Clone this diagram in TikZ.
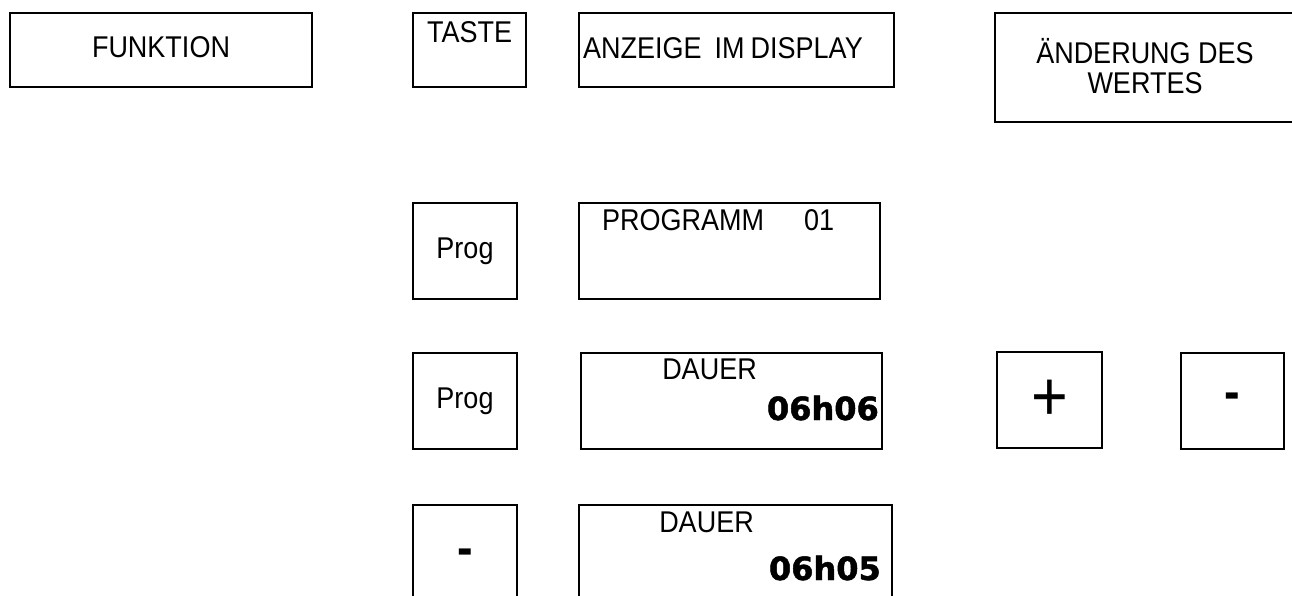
\documentclass[tikz,border=0pt]{standalone}
\usepackage{fontspec}
\setmainfont{Liberation Sans}[FakeStretch=0.9]
\newfontfamily\lcdfont{DejaVu Sans}[BoldFeatures={FakeBold=1.5}]
\usetikzlibrary{positioning}
\tikzset{
  box/.style={draw,line width=2pt,inner sep=0pt,minimum height=74.6pt},
  keybox/.style={box,minimum width=104pt,minimum height=96pt},
  lcdbox/.style={box,minimum width=301pt,minimum height=96pt},
  txt/.style={inner sep=0pt,anchor=base},
  lcd/.style={inner sep=0pt,anchor=base east,font=\lcdfont\bfseries\fontsize{32}{32}\selectfont},
  sign/.style={font=\bfseries\fontsize{52}{52}\selectfont},
}
\begin{document}
\begin{tikzpicture}[x=1pt,y=-1pt,font=\fontsize{30}{30}\selectfont]
\clip (0,0) rectangle (1292,596);
% header row
\node[box,minimum width=302pt,text depth=5pt] (funktion) at (161,50) {FUNKTION};
\node[box,minimum width=113pt] (taste) at (469,50) {};
\node[txt] (tastetxt) at (469.5,42.3) {TASTE};
\node[box,minimum width=315pt] (anzeige) at (736.5,50) {};
\node[txt,anchor=base west] (anzeigetxt) at (583,58.3) {ANZEIGE\hspace{13pt}IM\hspace{6pt}DISPLAY};
\node[box,minimum width=305pt,minimum height=109pt] (aendern) at (1147.5,67.2) {};
\node[inner sep=0pt,align=center] (aenderntxt) at (1145,66) {ÄNDERUNG DES\\WERTES};
% Prog -> Programm
\node[keybox] (prog1) at (465,251) {Prog};
\node[lcdbox] (disp1) at (729.5,251) {};
\node[txt,anchor=base west] (disp1txt) at (602,230) {PROGRAMM\hspace{40pt}01};
% Prog -> Dauer
\node[keybox] (prog2) at (465,401) {Prog};
\node[lcdbox] (disp2) at (731.5,401) {};
\node[txt] (disp2txt) at (709.5,379) {DAUER};
\node[lcd] (disp2val) at (879,420) {06h06};
\node[keybox,minimum width=105pt] (plus) at (1049.5,400) {\fontsize{70}{70}\selectfont +};
\node[keybox,minimum width=103pt,sign] (minus) at (1232.5,401) {-};
% - -> Dauer
\node[keybox,minimum height=104pt,sign] (minus2) at (465,557) {-};
\node[lcdbox,minimum width=313pt,minimum height=104pt] (disp3) at (735.5,557) {};
\node[txt] (disp3txt) at (706.5,532) {DAUER};
\node[lcd] (disp3val) at (881,580) {06h05};
\end{tikzpicture}
\end{document}
